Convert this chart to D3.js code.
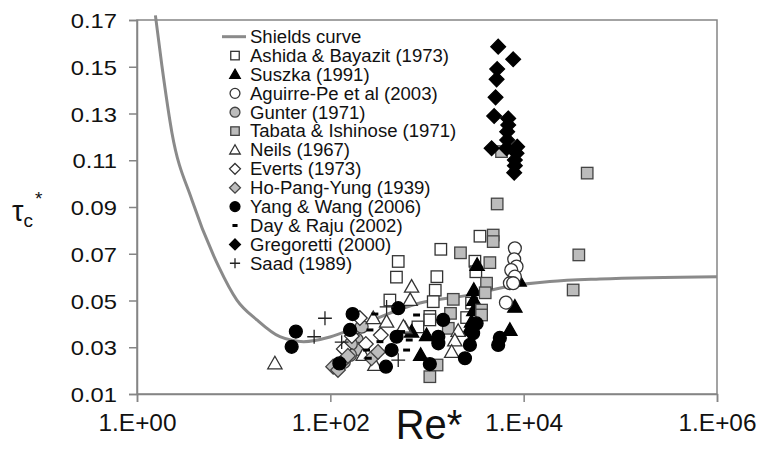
<!DOCTYPE html>
<html><head><meta charset="utf-8">
<script src="https://cdn.jsdelivr.net/npm/d3@7"></script>
<style>
body{margin:0;background:#fff;}
svg text{font-family:"Liberation Sans",Arial,sans-serif;fill:#111;}
</style></head><body>
<svg id="c" width="758" height="450"></svg>
<script>
// ---- data (Re*, tau_c*) ----
const xTicks = [1, 100, 1e4, 1e6];
const xTickLabels = ["1.E+00", "1.E+02", "1.E+04", "1.E+06"];
const yTicks = [0.01, 0.03, 0.05, 0.07, 0.09, 0.11, 0.13, 0.15, 0.17];
const yTickLabels = ["0.01", "0.03", "0.05", "0.07", "0.09", "0.11", "0.13", "0.15", "0.17"];

const shields = [[1.55,0.172],[1.81,0.1504],[2.30,0.1217],[3.70,0.093],[7.0,0.0645],[10.8,0.0502],[17.4,0.0417],[30.1,0.0345],[53,0.0324],[99,0.0344],[160,0.0374],[326,0.0429],[845,0.0489],[2780,0.0524],[6650,0.0559],[18660,0.0581],[61400,0.0592],[1e6,0.0602]];
const ashida = [[3530,0.0775],[1390,0.0719],[504,0.0667],[483,0.060],[1265,0.0602],[1217,0.0544],[1160,0.0495],[1070,0.0432],[1070,0.0417],[3130,0.0668],[3200,0.0623],[2890,0.0489],[2570,0.0427],[413,0.0502],[805,0.0387]];
const suszka = [[3300,0.0652],[3050,0.0545],[3050,0.0502],[3050,0.0459],[2890,0.0409],[2710,0.0374],[8110,0.0473],[8980,0.0585],[7200,0.0374],[990,0.0352],[860,0.0267],[693,0.0367]];
const aguirre = [[8110,0.0723],[7980,0.0676],[8440,0.0645],[7440,0.0630],[8110,0.0602],[7200,0.0574],[7790,0.0574],[6550,0.0491]];
const gunter = [[211,0.0388],[187,0.0333],[194,0.0293],[163,0.0314],[160,0.0267],[138,0.0237]];
const tabata = [[5320,0.0913],[5900,0.1137],[45400,0.1045],[37200,0.0695],[32500,0.0545],[4840,0.078],[4840,0.0752],[2220,0.0704],[4470,0.0662],[4130,0.0574],[4000,0.0533],[1870,0.0505],[3670,0.0459],[3670,0.0438],[1750,0.0445],[1660,0.0381],[1270,0.0224],[1070,0.0174]];
const neils = [[26.7,0.0231],[693,0.0559],[670,0.0502],[278,0.0424],[382,0.0409],[590,0.0381],[219,0.0267],[289,0.0224],[2100,0.037],[1940,0.0329],[1800,0.028],[570,0.0388]];
const everts = [[138,0.0293],[167,0.0348],[233,0.0314],[333,0.0352],[202,0.0425]];
const hoPangYung = [[107,0.0217],[120,0.0203],[132,0.0237],[152,0.0263],[267,0.0253],[311,0.028]];
const yangWang = [[39.8,0.0302],[44,0.0367],[170,0.0442],[160,0.0374],[124,0.0231],[504,0.0467],[484,0.0345],[430,0.0288],[376,0.0217],[1470,0.0417],[1310,0.0345],[1310,0.0317],[1070,0.0228],[3260,0.0402],[3000,0.036],[2780,0.031],[2470,0.0253],[5670,0.034],[5450,0.031]];
const dayRaju = [[289,0.0442],[257,0.0374],[326,0.0324],[247,0.0253],[237,0.0288],[615,0.0288],[780,0.0438],[655,0.0331],[546,0.0367]];
const gregoretti = [[5450,0.1586],[7790,0.1532],[5320,0.149],[5250,0.1446],[5120,0.1369],[4950,0.1289],[6920,0.1279],[6920,0.1251],[6750,0.1222],[6750,0.1187],[4660,0.1151],[6650,0.1151],[8570,0.1158],[8440,0.113],[8110,0.1101],[8110,0.1077],[7980,0.1047]];
const saad = [[88,0.0424],[68,0.0345],[131,0.0322],[382,0.0473],[504,0.0245]];

const seriesNames = ["Ashida & Bayazit (1973)","Suszka (1991)","Aguirre-Pe et al (2003)","Gunter (1971)","Tabata & Ishinose (1971)","Neils (1967)","Everts (1973)","Ho-Pang-Yung (1939)","Yang & Wang (2006)","Day & Raju (2002)","Gregoretti (2000)","Saad (1989)"];
const seriesData = [ashida, suszka, aguirre, gunter, tabata, neils, everts, hoPangYung, yangWang, dayRaju, gregoretti, saad];
const seriesShape = ["square","triangle","circle","circle","square","triangle","diamond","diamond","circle","dash","diamond","plus"];
const seriesFill = ["#fff","#000","#fff","#bcbcbc","#bcbcbc","#fff","#fff","#bcbcbc","#000","#000","#000","none"];
const seriesStroke = ["#333","#000","#333","#444","#444","#333","#333","#444","#000","#000","#000","#222"];

// ---- chart ----
const svg = d3.select("#c");
const L = 137, R = 717, T = 20, B = 394;
const x = d3.scaleLog().domain([1, 1e6]).range([L, R]);
const y = d3.scaleLinear().domain([0.01, 0.17]).range([B, T]);
const axisCol = "#858585";

function stretch(sel, k) {
  sel.each(function () {
    const w = this.getComputedTextLength();
    d3.select(this).attr("textLength", w * k).attr("lengthAdjust", "spacingAndGlyphs");
  });
}

// frame
svg.append("rect").attr("x", L).attr("y", T).attr("width", R - L).attr("height", B - T)
  .attr("fill", "none").attr("stroke", axisCol).attr("stroke-width", 1.5);

const gx = svg.append("g").attr("transform", `translate(0,${B})`)
  .call(d3.axisBottom(x).tickValues(xTicks).tickFormat((d, i) => xTickLabels[i]).tickSize(8).tickPadding(8));
const gy = svg.append("g").attr("transform", `translate(${L},0)`)
  .call(d3.axisLeft(y).tickValues(yTicks).tickFormat((d, i) => yTickLabels[i]).tickSize(8).tickPadding(12));
[gx, gy].forEach(g => {
  g.select(".domain").attr("stroke", axisCol).attr("stroke-width", 1.5);
  g.selectAll(".tick line").attr("stroke", axisCol).attr("stroke-width", 1.5);
  g.selectAll(".tick text").attr("fill", "#111")
    .attr("font-family", '"Liberation Sans",Arial,sans-serif');
});
gy.selectAll(".tick text").attr("font-size", 21).attr("dy", "0.36em");
gx.selectAll(".tick text").attr("font-size", 23).attr("y", 37).attr("dy", 0);
stretch(gy.selectAll(".tick text"), 1.13);
stretch(gx.selectAll(".tick text"), 1.06);

// axis titles
const xt = svg.append("text").attr("x", 429).attr("y", 439).attr("text-anchor", "middle")
  .attr("font-size", 42).text("Re*");
stretch(xt, 0.95);
const yt = svg.append("text").attr("x", 12).attr("y", 221).attr("font-size", 29);
yt.append("tspan").text("τ");
yt.append("tspan").attr("font-size", 19).attr("dy", 6).text("c");
yt.append("tspan").attr("font-size", 19).attr("dy", -22).attr("dx", 2).text("*");

// shields curve
const line = d3.line().x(d => x(d[0])).y(d => y(d[1])).curve(d3.curveMonotoneX);
svg.append("path").datum(shields).attr("d", line).attr("fill", "none")
  .attr("stroke", "#8a8a8a").attr("stroke-width", 3);

function drawMarker(g, shape, size, fill, stroke) {
  const s = size;
  if (shape === "square") {
    g.append("rect").attr("x", -s/2).attr("y", -s/2).attr("width", s).attr("height", s)
      .attr("fill", fill).attr("stroke", stroke).attr("stroke-width", 1.3);
  } else if (shape === "circle") {
    g.append("circle").attr("r", s/2 + 0.7).attr("fill", fill).attr("stroke", stroke).attr("stroke-width", 1.3);
  } else if (shape === "triangle") {
    g.append("path").attr("d", `M0,${-s*0.62}L${s*0.62},${s*0.47}L${-s*0.62},${s*0.47}Z`)
      .attr("fill", fill).attr("stroke", stroke).attr("stroke-width", 1.3);
  } else if (shape === "diamond") {
    const r = s * 0.64;
    g.append("path").attr("d", `M0,${-r}L${r},0L0,${r}L${-r},0Z`)
      .attr("fill", fill).attr("stroke", stroke).attr("stroke-width", 1.3);
  } else if (shape === "dash") {
    g.append("rect").attr("x", -s*0.3).attr("y", -1.5).attr("width", s*0.6).attr("height", 3).attr("fill", fill);
  } else if (shape === "plus") {
    g.append("path").attr("d", `M${-s*0.6},0H${s*0.6}M0,${-s*0.6}V${s*0.6}`)
      .attr("stroke", stroke).attr("stroke-width", 1.3).attr("fill", "none");
  }
}

seriesData.forEach((data, i) => {
  const g = svg.append("g");
  data.forEach(d => {
    const m = g.append("g").attr("transform", `translate(${x(d[0])},${y(d[1])})`);
    drawMarker(m, seriesShape[i], 11.5, seriesFill[i], seriesStroke[i]);
  });
});

// legend
const lg = svg.append("g");
const rowY = i => 36.7 + i * 18.88;
lg.append("line").attr("x1", 222).attr("x2", 246).attr("y1", rowY(0)).attr("y2", rowY(0))
  .attr("stroke", "#8a8a8a").attr("stroke-width", 3);
lg.append("text").attr("x", 250).attr("y", rowY(0)).attr("dy", "0.36em").attr("font-size", 17.5).text("Shields curve");
seriesNames.forEach((n, i) => {
  const m = lg.append("g").attr("transform", `translate(235,${rowY(i + 1)})`);
  drawMarker(m, seriesShape[i], 8.5, seriesFill[i], seriesStroke[i]);
  lg.append("text").attr("x", 250).attr("y", rowY(i + 1)).attr("dy", "0.36em").attr("font-size", 17.5).text(n);
});
stretch(lg.selectAll("text"), 1.06);
</script>
</body></html>
